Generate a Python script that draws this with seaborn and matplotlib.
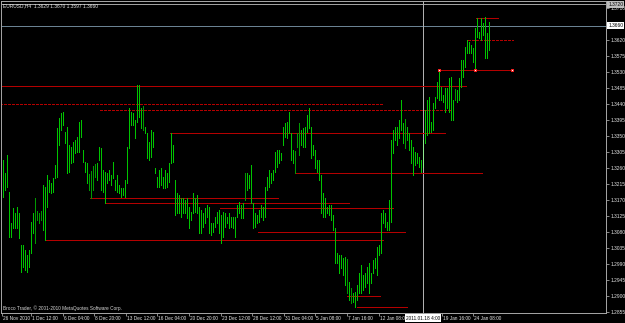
import numpy as np
import pandas as pd
import matplotlib
matplotlib.use("Agg")
import matplotlib.pyplot as plt
import matplotlib.transforms as mtransforms
import seaborn as sns

# ---------------- data (EURUSD H4 bars) ----------------
highs = [
    1.3283, 1.3246, 1.3297, 1.3193, 1.3105, 1.3148, 1.3133, 1.3150, 1.3133, 1.3043,
    1.3043, 1.3029, 1.3015, 1.3029, 1.3108, 1.3133, 1.3178, 1.3142, 1.3136, 1.3142,
    1.3212, 1.3207, 1.3240, 1.3226, 1.3218, 1.3232, 1.3268, 1.3373, 1.3401, 1.3415,
    1.3418, 1.3361, 1.3375, 1.3325, 1.3319, 1.3333, 1.3339, 1.3347, 1.3389, 1.3395,
    1.3311, 1.3277, 1.3274, 1.3246, 1.3254, 1.3268, 1.3274, 1.3274, 1.3319, 1.3316,
    1.3254, 1.3249, 1.3246, 1.3254, 1.3240, 1.3277, 1.3226, 1.3240, 1.3212, 1.3204,
    1.3204, 1.3226, 1.3319, 1.3429, 1.3418, 1.3415, 1.3395, 1.3493, 1.3493, 1.3429,
    1.3437, 1.3375, 1.3358, 1.3333, 1.3367, 1.3361, 1.3260, 1.3235, 1.3254, 1.3260,
    1.3235, 1.3254, 1.3246, 1.3274, 1.3358, 1.3325, 1.3226, 1.3190, 1.3184, 1.3176,
    1.3176, 1.3170, 1.3176, 1.3150, 1.3136, 1.3190, 1.3176, 1.3184, 1.3150,
    1.3142, 1.3133, 1.3148, 1.3156, 1.3150, 1.3105, 1.3105, 1.3122, 1.3136, 1.3142,
    1.3128, 1.3136, 1.3133, 1.3122, 1.3133, 1.3122, 1.3122, 1.3122, 1.3156, 1.3164,
    1.3156, 1.3162, 1.3249, 1.3246, 1.3240, 1.3268, 1.3162, 1.3133, 1.3128, 1.3142,
    1.3156, 1.3150, 1.3207, 1.3235, 1.3254, 1.3246, 1.3254, 1.3305, 1.3311, 1.3311,
    1.3302, 1.3375, 1.3387, 1.3389, 1.3418, 1.3358, 1.3311, 1.3311, 1.3361, 1.3389,
    1.3367, 1.3373, 1.3375, 1.3409, 1.3429, 1.3375, 1.3325, 1.3311, 1.3283, 1.3283,
    1.3240, 1.3190, 1.3176, 1.3150, 1.3156, 1.3156, 1.3128, 1.3091, 1.3021, 1.3015,
    1.3015, 1.3007, 1.3010, 1.3007, 1.2939, 1.2925, 1.2908, 1.2911, 1.2931, 1.2965,
    1.2987, 1.2959, 1.2965, 1.2982, 1.2993, 1.2965, 1.3001, 1.3007, 1.3038, 1.3043,
    1.3133, 1.3142, 1.3133, 1.3108, 1.3170, 1.3339, 1.3367, 1.3375, 1.3375, 1.3395,
    1.3451, 1.3387, 1.3401, 1.3375, 1.3358, 1.3339, 1.3319, 1.3305, 1.3302, 1.3291,
    1.3283, 1.3339, 1.3423, 1.3451, 1.3460, 1.3389, 1.3443, 1.3460, 1.3502, 1.3536,
    1.3488, 1.3465, 1.3485, 1.3485, 1.3513, 1.3516, 1.3451, 1.3485, 1.3479, 1.3513,
    1.3564, 1.3564, 1.3600, 1.3620, 1.3614, 1.3606, 1.3598, 1.3654, 1.3682, 1.3643,
    1.3682, 1.3668, 1.3685, 1.3640, 1.3671,
]
lows = [
    1.3178, 1.3198, 1.3207, 1.3066, 1.3066, 1.3091, 1.3091, 1.3091, 1.3063, 1.2968,
    1.2982, 1.2973, 1.2968, 1.2982, 1.3021, 1.3077, 1.3049, 1.3114, 1.3105, 1.3114,
    1.3086, 1.3058, 1.3150, 1.3193, 1.3190, 1.3193, 1.3232, 1.3235, 1.3325, 1.3367,
    1.3381, 1.3330, 1.3246, 1.3249, 1.3274, 1.3277, 1.3302, 1.3305, 1.3305, 1.3347,
    1.3277, 1.3249, 1.3218, 1.3198, 1.3176, 1.3198, 1.3235, 1.3226, 1.3283, 1.3198,
    1.3193, 1.3162, 1.3218, 1.3226, 1.3212, 1.3232, 1.3198, 1.3193, 1.3190, 1.3178,
    1.3184, 1.3178, 1.3218, 1.3316, 1.3381, 1.3381, 1.3344, 1.3389, 1.3403, 1.3373,
    1.3367, 1.3358, 1.3288, 1.3283, 1.3291, 1.3319, 1.3246, 1.3207, 1.3207, 1.3212,
    1.3204, 1.3204, 1.3207, 1.3221, 1.3274, 1.3277, 1.3128, 1.3133, 1.3133, 1.3122,
    1.3133, 1.3133, 1.3119, 1.3091, 1.3114, 1.3133, 1.3136, 1.3133, 1.3077,
    1.3077, 1.3094, 1.3105, 1.3122, 1.3077, 1.3072, 1.3080, 1.3094, 1.3105, 1.3077,
    1.3049, 1.3066, 1.3094, 1.3105, 1.3091, 1.3094, 1.3091, 1.3066, 1.3122, 1.3133,
    1.3119, 1.3119, 1.3170, 1.3198, 1.3204, 1.3162, 1.3091, 1.3094, 1.3105, 1.3108,
    1.3122, 1.3114, 1.3122, 1.3198, 1.3207, 1.3218, 1.3226, 1.3249, 1.3263, 1.3274,
    1.3283, 1.3325, 1.3347, 1.3344, 1.3358, 1.3283, 1.3274, 1.3246, 1.3319, 1.3297,
    1.3325, 1.3319, 1.3319, 1.3361, 1.3373, 1.3288, 1.3297, 1.3260, 1.3249, 1.3226,
    1.3133, 1.3122, 1.3122, 1.3133, 1.3128, 1.3114, 1.3086, 1.2993, 1.2993, 1.2965,
    1.2979, 1.2959, 1.2931, 1.2908, 1.2889, 1.2880, 1.2883, 1.2869, 1.2889, 1.2908,
    1.2908, 1.2917, 1.2925, 1.2937, 1.2908, 1.2937, 1.2965, 1.2979, 1.2959, 1.3015,
    1.3021, 1.3105, 1.3094, 1.3086, 1.3086, 1.3108, 1.3302, 1.3339, 1.3325, 1.3344,
    1.3367, 1.3330, 1.3316, 1.3339, 1.3311, 1.3274, 1.3240, 1.3268, 1.3274, 1.3263,
    1.3249, 1.3263, 1.3330, 1.3353, 1.3358, 1.3361, 1.3367, 1.3429, 1.3457, 1.3451,
    1.3451, 1.3446, 1.3418, 1.3429, 1.3418, 1.3395, 1.3395, 1.3451, 1.3446, 1.3451,
    1.3488, 1.3516, 1.3544, 1.3583, 1.3583, 1.3583, 1.3558, 1.3541, 1.3628, 1.3626,
    1.3620, 1.3634, 1.3569, 1.3569, 1.3592,
]
dim_bars = [16, 17, 18, 19, 43, 44, 45, 46, 70, 121, 146, 147, 148, 172, 174, 201, 226]
cursor_bar = 210

# horizontal levels (price, start bar, end bar, dotted)
level_prices = [1.3490, 1.3440, 1.3423, 1.3358, 1.3176, 1.3162, 1.3148, 1.3058,
                1.3080, 1.3246, 1.2900, 1.2869, 1.3682, 1.3620, 1.3536]
level_start = [-1.5, -1.5, 48.5, 83.5, 43.5, 51, 108.5, 21, 127.5, 146.5, 172, 177,
               236.5, 232.5, 218]
level_end = [231.5, 189.5, 224.5, 221, 137.5, 173, 195, 190, 201, 239.5, 188.5, 202,
             247.5, 255, 254.5]
level_dotted = [False, True, True, False, False, False, False, False, False, False,
                False, False, False, True, False]
anchor_bars = [218, 236, 254.5]
anchor_price = 1.3536

current_price = 1.3660
upper_line_price = 1.3720

price_ticks = [1.3710, 1.3620, 1.3575, 1.3530, 1.3485, 1.3440, 1.3395, 1.3350,
               1.3305, 1.3260, 1.3215, 1.3170, 1.3125, 1.3080, 1.3035, 1.2990, 1.2945,
               1.2900, 1.2855]
time_labels = ["26 Nov 2010", "1 Dec 12:00", "6 Dec 04:00", "8 Dec 20:00", "13 Dec 12:00",
               "16 Dec 04:00", "20 Dec 20:00", "23 Dec 12:00", "28 Dec 12:00",
               "31 Dec 04:00", "5 Jan 08:00", "7 Jan 16:00", "12 Jan 08:00",
               "19 Jan 16:00", "24 Jan 08:00"]
time_label_bars = [-0.5, 14, 29.8, 45.6, 61.4, 77.2, 93, 108.8, 124.6, 140.4, 156.2,
                   172, 187.8, 219.4, 235.2]
title_text = "EURUSD,H4  1.3629 1.3670 1.3597 1.3660"
cursor_label = "2011.01.18 4:00"
copyright_text = "Broco Trader, \u00a9 2001-2010 MetaQuotes Software Corp."

# ---------------- style ----------------
sns.set_theme(style="dark", rc={"axes.facecolor": "black", "figure.facecolor": "black",
                                "axes.grid": False})
plt.rcParams["font.family"] = ["Liberation Sans", "DejaVu Sans"]

W, H = 625, 323
LW = 0.5  # one device pixel at 100 dpi without antialiasing
fig = plt.figure(figsize=(W / 100, H / 100), dpi=100)
ax = fig.add_axes([1 / W, 10 / H, 605 / W, 312 / H])
ax.set_facecolor("black")

df = pd.DataFrame({"bar": np.arange(len(highs)), "high": highs, "low": lows})
df["dim"] = df["bar"].isin(dim_bars)

bright = df[~df["dim"] & (df["bar"] != cursor_bar)]
ax.vlines(bright["bar"], bright["low"], bright["high"], colors="#00c400", lw=LW,
          antialiased=False, zorder=3)
dim = df[df["dim"]]
ax.vlines(dim["bar"], dim["low"], dim["high"], colors="#009a00", lw=LW,
          linestyles=(0, (1, 1)), antialiased=False, zorder=3)
cur = df[df["bar"] == cursor_bar]
ax.vlines(cur["bar"], cur["low"], cur["high"], colors="#8fe88f", lw=LW,
          antialiased=False, zorder=4)

# levels
for p, s, e, d in zip(level_prices, level_start, level_end, level_dotted):
    ax.hlines(p, s, e, colors="#b40000", lw=LW, linestyles=(0, (3, 1.5)) if d else "-",
              antialiased=False, zorder=2)
anchors = pd.DataFrame({"bar": anchor_bars, "price": [anchor_price] * len(anchor_bars)})
sns.scatterplot(data=anchors, x="bar", y="price", marker="s", s=4, color="white",
                edgecolor="#ff2020", linewidth=0.7, ax=ax, zorder=6, legend=False)

# current price / cursor lines
ax.axhline(current_price, color="#6a8292", lw=LW, antialiased=False, zorder=1)
ax.axhline(upper_line_price, color="#a0a0a0", lw=LW, antialiased=False, zorder=1)
ax.axvline(cursor_bar, color="#b0b0b0", lw=LW, antialiased=False, zorder=1)

# axes limits (chart area px 1..606 horizontally, price scale 0.0045 per 16 px)
ax.set_xlim(-1, 301.5)
ax.set_ylim(1.28522, 1.37297)

for side in ["left", "right", "bottom", "top"]:
    ax.spines[side].set_visible(True)
    ax.spines[side].set_color("#a8a8a8")
    ax.spines[side].set_linewidth(0.7)

ax.yaxis.tick_right()
ax.set_yticks(price_ticks)
ax.set_yticklabels([f"{v:.4f}" for v in price_ticks])
ax.tick_params(axis="y", right=True, left=False, length=2, width=0.6, color="#a0a0a0",
               pad=1, labelsize=3.5, labelcolor="#e6e6e6")

ax.set_xticks(time_label_bars)
ax.set_xticklabels(time_labels)
ax.tick_params(axis="x", bottom=True, length=2, width=0.6, color="#a0a0a0", pad=0.5,
               labelsize=3.4, labelcolor="#e6e6e6")
offset = mtransforms.ScaledTranslation(1 / 100, 0, fig.dpi_scale_trans)
for lbl in ax.get_xticklabels():
    lbl.set_horizontalalignment("left")
    lbl.set_transform(lbl.get_transform() + offset)
ax.set_xlabel("")
ax.set_ylabel("")

# highlighted labels
ytr = ax.get_yaxis_transform()
ax.text(1.0035, current_price, f"{current_price:.4f}", transform=ytr, fontsize=3.5,
        color="black", va="center", ha="left", clip_on=False, zorder=20,
        bbox=dict(boxstyle="square,pad=0.25", fc="white", ec="none"))
ax.text(1.0035, upper_line_price, f"{upper_line_price:.4f}", transform=ytr, fontsize=3.5,
        color="black", va="center", ha="left", clip_on=False, zorder=20,
        bbox=dict(boxstyle="square,pad=0.2", fc="#bdbdbd", ec="none"))
xtr = ax.get_xaxis_transform()
ax.text(cursor_bar, -0.017, cursor_label, transform=xtr, fontsize=3.4, color="black",
        va="center", ha="center", clip_on=False, zorder=20,
        bbox=dict(boxstyle="square,pad=0.3", fc="white", ec="none"))

fig.text(3 / W, 1 - 6 / H, title_text, fontsize=3.5, color="#e6e6e6", va="center",
         ha="left")
ax.text(0.004, 1.28522 + 0.0014, copyright_text, fontsize=3.4, color="#d8d8d8",
        va="center", ha="left",
        transform=mtransforms.blended_transform_factory(ax.transAxes, ax.transData))

fig.savefig("out.png", dpi=100, facecolor="black")
